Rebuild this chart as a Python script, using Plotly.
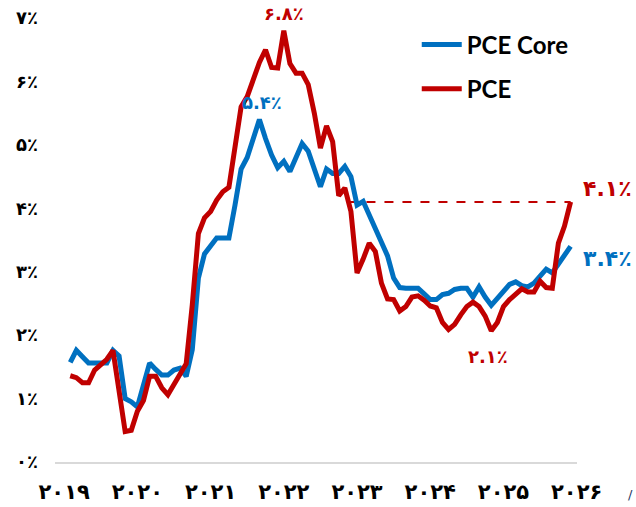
import plotly.graph_objects as go

# Monthly observations (index 0 = first month shown)
pce_core = [1.57, 1.76, 1.66, 1.56, 1.56, 1.56, 1.56, 1.76, 1.67, 1.00,
            0.95, 0.87, 1.20, 1.56, 1.46, 1.37, 1.37, 1.45, 1.48, 1.35,
            1.77, 2.90, 3.28, 3.42, 3.53, 3.53, 3.53, 4.05, 4.62, 4.80,
            5.08, 5.40, 5.10, 4.84, 4.64, 4.74, 4.58, 4.80, 5.02, 4.90,
            4.60, 4.34, 4.62, 4.55, 4.55, 4.66, 4.50, 4.05, 4.11, 3.90,
            3.70, 3.48, 3.25, 2.90, 2.75, 2.74, 2.74, 2.74, 2.65, 2.56,
            2.56, 2.64, 2.66, 2.72, 2.74, 2.74, 2.60, 2.76, 2.60, 2.47,
            2.58, 2.70, 2.80, 2.84, 2.78, 2.76, 2.82, 2.93, 3.04, 2.98,
            3.12, 3.24, 3.40]

pce = [1.36, 1.33, 1.25, 1.25, 1.45, 1.53, 1.62, 1.76, 1.10, 0.48,
       0.50, 0.80, 0.97, 1.35, 1.35, 1.17, 1.06, 1.22, 1.40, 1.55,
       2.48, 3.60, 3.85, 3.95, 4.13, 4.26, 4.33, 4.97, 5.60, 5.76,
       6.04, 6.30, 6.50, 6.22, 6.21, 6.80, 6.28, 6.13, 6.13, 5.95,
       5.50, 4.95, 5.30, 5.05, 4.20, 4.32, 3.95, 2.98, 3.20, 3.45,
       3.32, 2.82, 2.57, 2.56, 2.38, 2.45, 2.60, 2.62, 2.55, 2.46,
       2.43, 2.20, 2.09, 2.17, 2.32, 2.45, 2.52, 2.45, 2.30, 2.07,
       2.20, 2.45, 2.56, 2.65, 2.73, 2.68, 2.68, 2.85, 2.75, 2.74,
       3.45, 3.72, 4.10]

months = list(range(len(pce)))

year_labels = ["۲۰۱۹", "۲۰۲۰", "۲۰۲۱", "۲۰۲۲", "۲۰۲۳", "۲۰۲۴", "۲۰۲۵", "۲۰۲۶"]
year_ticks = [-1 + 12 * k for k in range(len(year_labels))]
y_ticks = list(range(0, 8))
y_labels = ["۰٪", "۱٪", "۲٪", "۳٪", "۴٪", "۵٪", "۶٪", "۷٪"]

BLUE = "#0070C0"
RED = "#C00000"

# where PCE last fell through its latest level -> start of the dashed reference
last = pce[-1]
start = 0
for i in range(len(pce) - 2, 0, -1):
    if pce[i] >= last > pce[i + 1]:
        start = i + (pce[i] - last) / (pce[i] - pce[i + 1])
        break

fig = go.Figure()
fig.add_trace(go.Scatter(x=[start, months[-1]], y=[last, last], mode="lines",
                         line=dict(color=RED, width=2, dash="dash"),
                         showlegend=False, hoverinfo="skip"))
fig.add_trace(go.Scatter(x=months, y=pce_core, mode="lines", name="PCE Core",
                         legendgroup="a",
                         line=dict(color=BLUE, width=5, shape="linear")))
fig.add_trace(go.Scatter(x=months, y=pce, mode="lines", name="PCE",
                         legendgroup="b",
                         line=dict(color=RED, width=5, shape="linear")))

ann_font = dict(family="DejaVu Sans", size=18, weight="bold")
imax = pce.index(max(pce))
cmax = pce_core.index(max(pce_core))
pmin = 60 + pce[60:].index(min(pce[60:]))


def fmt(v):
    s = f"{round(v, 1):.1f}"
    trans = str.maketrans("0123456789", "۰۱۲۳۴۵۶۷۸۹")
    return s.translate(trans) + "٪"


fig.add_annotation(x=imax, y=pce[imax], text=fmt(pce[imax]), showarrow=False,
                   yshift=17, font=dict(color=RED, **ann_font))
fig.add_annotation(x=cmax, y=pce_core[cmax], text=fmt(pce_core[cmax]), showarrow=False,
                   yshift=17, xshift=3, font=dict(color=BLUE, **ann_font))
fig.add_annotation(x=pmin, y=pce[pmin], text=fmt(pce[pmin]), showarrow=False,
                   yshift=-26, xshift=-3, font=dict(color=RED, **ann_font))
fig.add_annotation(x=months[-1], y=pce[-1], text=fmt(pce[-1]), showarrow=False,
                   xanchor="left", xshift=10, yshift=13,
                   font=dict(color=RED, family="DejaVu Sans", size=22, weight="bold"))
fig.add_annotation(x=months[-1], y=pce_core[-1], text=fmt(pce_core[-1]), showarrow=False,
                   xanchor="left", xshift=10, yshift=-12,
                   font=dict(color=BLUE, family="DejaVu Sans", size=22, weight="bold"))
fig.add_annotation(xref="paper", yref="paper", x=1.111, y=-0.095, text="/",
                   showarrow=False, font=dict(color="#1F3864", size=13, family="DejaVu Sans"))

fig.update_layout(
    width=636, height=507,
    margin=dict(l=55, r=59, t=18, b=45),
    paper_bgcolor="white", plot_bgcolor="white",
    showlegend=True,
    legend=dict(x=0.693, y=0.99, xanchor="left", yanchor="top",
                font=dict(family="Lato", size=24, color="black", weight="bold"),
                bgcolor="rgba(0,0,0,0)", tracegroupgap=10, itemwidth=40),
    xaxis=dict(range=[-2.5, 83.05], tickvals=year_ticks, ticktext=year_labels,
               showgrid=False, zeroline=False, showline=True,
               linecolor="#D9D9D9", linewidth=2, ticks="", automargin=False,
               tickfont=dict(family="DejaVu Sans", size=21, color="black", weight="bold"),
               ticklabelstandoff=10),
    yaxis=dict(range=[0, 7], tickvals=y_ticks, ticktext=y_labels,
               showgrid=False, zeroline=False, showline=False, ticks="", automargin=False,
               tickfont=dict(family="DejaVu Sans", size=18, color="black", weight="bold"),
               ticklabelstandoff=16),
)

fig.write_html("out.html", config={"displayModeBar": False},
               post_script="document.body.style.margin='0px';document.body.style.overflow='hidden';")
